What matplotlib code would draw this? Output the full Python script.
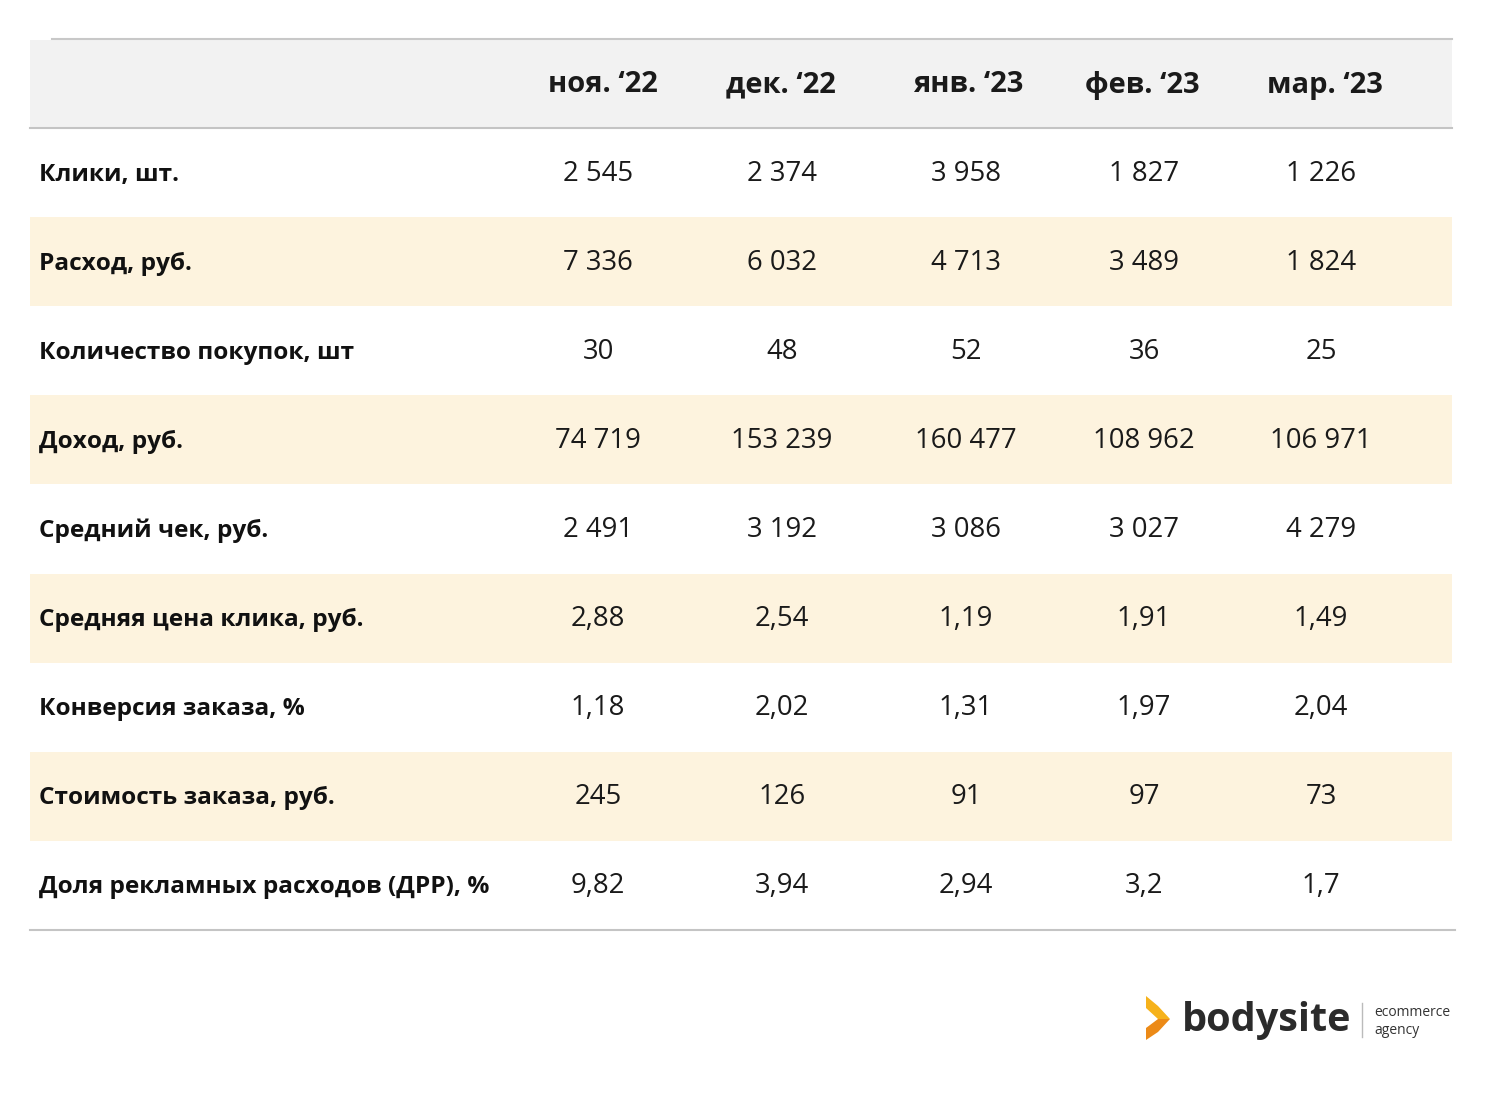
import matplotlib.pyplot as plt
from matplotlib.patches import Rectangle, Polygon

plt.rcParams['font.family'] = ['Open Sans', 'DejaVu Sans']

months = ['ноя. ‘22', 'дек. ‘22', 'янв. ‘23', 'фев. ‘23', 'мар. ‘23']
metrics = ['Клики, шт.', 'Расход, руб.', 'Количество покупок, шт', 'Доход, руб.',
           'Средний чек, руб.', 'Средняя цена клика, руб.', 'Конверсия заказа, %',
           'Стоимость заказа, руб.', 'Доля рекламных расходов (ДРР), %']
clicks = ['2 545', '2 374', '3 958', '1 827', '1 226']
spend = ['7 336', '6 032', '4 713', '3 489', '1 824']
purchases = ['30', '48', '52', '36', '25']
revenue = ['74 719', '153 239', '160 477', '108 962', '106 971']
avg_check = ['2 491', '3 192', '3 086', '3 027', '4 279']
cpc = ['2,88', '2,54', '1,19', '1,91', '1,49']
conversion = ['1,18', '2,02', '1,31', '1,97', '2,04']
order_cost = ['245', '126', '91', '97', '73']
drr = ['9,82', '3,94', '2,94', '3,2', '1,7']
rows = [clicks, spend, purchases, revenue, avg_check, cpc, conversion, order_cost, drr]

W, H = 1500, 1106
fig = plt.figure(figsize=(15, 11.06), dpi=100)
ax = fig.add_axes([0, 0, 1, 1])
ax.set_xlim(0, W)
ax.set_ylim(H, 0)
ax.axis('off')

x0, x1 = 30, 1452
head_top, head_bot = 40, 128
row_h = 89.1
col_x = [598, 782, 966, 1144, 1321]
head_x = [603, 781, 968, 1142, 1325]

# header band
ax.add_patch(Rectangle((x0, head_top), x1 - x0, head_bot - head_top, color='#f2f2f2', lw=0))
ax.plot([52, x1], [39, 39], color='#c8c8c8', lw=1.5)
ax.plot([x0, x1], [head_bot, head_bot], color='#c4c4c4', lw=1.5)
for m, hx in zip(months, head_x):
    ax.text(hx, 85, m, ha='center', va='center', fontsize=21, fontweight='bold', color='#1a1a1a')

for i, (label, vals) in enumerate(zip(metrics, rows)):
    top = head_bot + i * row_h
    cy = top + row_h / 2
    if i % 2 == 1:
        ax.add_patch(Rectangle((x0, top), x1 - x0, row_h, color='#fdf3de', lw=0))
    ax.text(39, cy + 2, label, ha='left', va='center', fontsize=17.6, fontweight='bold',
            color='#111111')
    for v, cx in zip(vals, col_x):
        ax.text(cx, cy + 1, v, ha='center', va='center', fontsize=19.8, color='#1a1a1a')

bottom = head_bot + len(rows) * row_h
ax.plot([x0, 1455], [bottom, bottom], color='#c4c4c4', lw=1.5)

# logo
ax.add_patch(Polygon([[1146, 996], [1158, 1006], [1170, 1019], [1158, 1019], [1146, 1008]],
                     color='#f6b21b', lw=0))
ax.add_patch(Polygon([[1146, 1040], [1158, 1032], [1170, 1019], [1158, 1019], [1146, 1028]],
                     color='#ec8a17', lw=0))
ax.text(1182, 1020, 'bodysite', ha='left', va='center', fontsize=28.5, fontweight='bold',
        color='#2b2b2b')
ax.plot([1362, 1362], [1003, 1037], color='#bbbbbb', lw=1)
ax.text(1374, 1013, 'ecommerce', ha='left', va='center', fontsize=10, color='#333333')
ax.text(1374, 1030, 'agency', ha='left', va='center', fontsize=10, color='#333333')

fig.savefig('out.png', dpi=100)
